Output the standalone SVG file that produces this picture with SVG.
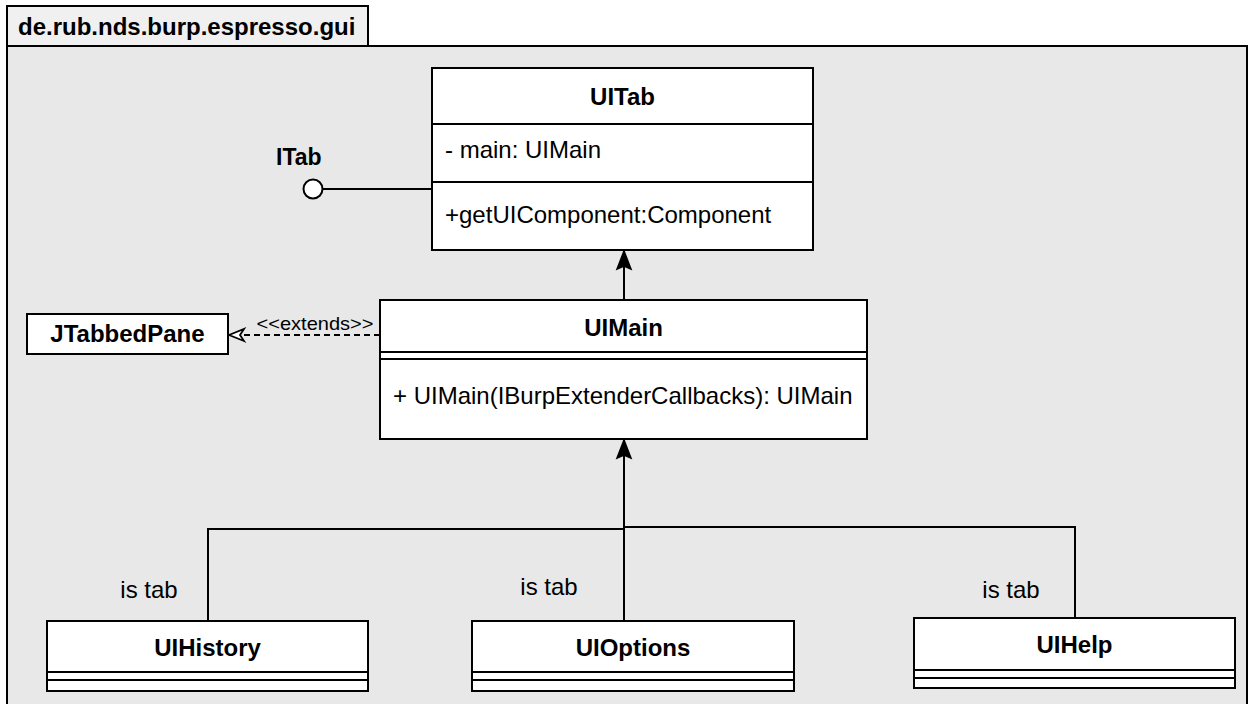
<svg xmlns="http://www.w3.org/2000/svg" width="1252" height="704" viewBox="0 0 1252 704">
  <style>
    text { font-family: "Liberation Sans", Arial, Helvetica, sans-serif; fill: #000; }
    .name { font-size: 24px; font-weight: bold; text-anchor: middle; }
    .member { font-size: 24px; }
    .label { font-size: 24px; text-anchor: middle; }
    .box { fill: #ffffff; stroke: #000; stroke-width: 2; }
    .sep { stroke: #000; stroke-width: 2; fill: none; }
    .edge { stroke: #000; stroke-width: 2; fill: none; }
    .dash { stroke: #000; stroke-width: 2; fill: none; stroke-dasharray: 6 4; }
  </style>
  <defs>
    <marker id="block" viewBox="0 0 20 20" refX="20" refY="10" markerWidth="20" markerHeight="20" markerUnits="userSpaceOnUse" orient="auto">
      <path d="M20,10 L2,3 L5,10 L2,17 Z" fill="#000" stroke="#000" stroke-width="1.5" stroke-linejoin="miter"/>
    </marker>
    <marker id="open" viewBox="0 0 20 20" refX="19" refY="10" markerWidth="20" markerHeight="20" markerUnits="userSpaceOnUse" orient="auto">
      <path d="M4,4 L19,10 L4,16 L8,10 Z" fill="#ffffff" stroke="#000" stroke-width="1.8"/>
    </marker>
  </defs>

  <!-- package frame -->
  <g id="package">
    <rect x="7" y="46" width="1240" height="670" fill="#e8e8e8" stroke="#000" stroke-width="2"/>
    <rect x="7" y="6" width="361" height="40" fill="#f0f0f0" stroke="#000" stroke-width="2"/>
    <text x="18" y="35" style="font-size:24px;font-weight:bold">de.rub.nds.burp.espresso.gui</text>
  </g>

  <!-- connectors -->
  <g id="connectors">
    <line class="edge" x1="323" y1="189" x2="432" y2="189"/>
    <line class="edge" x1="624" y1="300" x2="624" y2="251" marker-end="url(#block)"/>
    <line class="dash" x1="380" y1="335" x2="229" y2="335" marker-end="url(#open)"/>
    <path class="edge" d="M208,621 V529 H624 V440" marker-end="url(#block)"/>
    <line class="edge" x1="624" y1="621" x2="624" y2="529"/>
    <path class="edge" d="M1075,618 V527 H624"/>
    <text x="315" y="330" text-anchor="middle" style="font-size:19px" textLength="117" lengthAdjust="spacingAndGlyphs">&lt;&lt;extends&gt;&gt;</text>
    <text class="label" x="149" y="598">is tab</text>
    <text class="label" x="549" y="595">is tab</text>
    <text class="label" x="1011" y="598">is tab</text>
  </g>

  <!-- ITab interface (lollipop) -->
  <g id="ITab">
    <circle cx="313" cy="189" r="9.5" fill="#ffffff" stroke="#000" stroke-width="2"/>
    <text x="276" y="165" style="font-size:23px;font-weight:bold">ITab</text>
  </g>

  <!-- UITab class -->
  <g id="UITab">
    <rect class="box" x="432" y="68" width="381" height="182"/>
    <line class="sep" x1="432" y1="124" x2="813" y2="124"/>
    <line class="sep" x1="432" y1="182" x2="813" y2="182"/>
    <text class="name" x="622.5" y="105">UITab</text>
    <text class="member" x="445" y="158">- main: UIMain</text>
    <text class="member" x="445" y="223">+getUIComponent:Component</text>
  </g>

  <!-- UIMain class -->
  <g id="UIMain">
    <rect class="box" x="380" y="300" width="487" height="139"/>
    <line class="sep" x1="380" y1="352" x2="867" y2="352"/>
    <line class="sep" x1="380" y1="359" x2="867" y2="359"/>
    <text class="name" x="623.5" y="336">UIMain</text>
    <text class="member" x="393" y="404">+ UIMain(IBurpExtenderCallbacks): UIMain</text>
  </g>

  <!-- JTabbedPane -->
  <g id="JTabbedPane">
    <rect class="box" x="27" y="314" width="201" height="40"/>
    <text class="name" x="127.5" y="342">JTabbedPane</text>
  </g>

  <!-- tab classes -->
  <g id="UIHistory">
    <rect class="box" x="47" y="621" width="321" height="70"/>
    <line class="sep" x1="47" y1="672" x2="368" y2="672"/>
    <line class="sep" x1="47" y1="680" x2="368" y2="680"/>
    <text class="name" x="207.5" y="656">UIHistory</text>
  </g>

  <g id="UIOptions">
    <rect class="box" x="472" y="621" width="322" height="70"/>
    <line class="sep" x1="472" y1="672" x2="794" y2="672"/>
    <line class="sep" x1="472" y1="680" x2="794" y2="680"/>
    <text class="name" x="633" y="656">UIOptions</text>
  </g>

  <g id="UIHelp">
    <rect class="box" x="914" y="618" width="321" height="70"/>
    <line class="sep" x1="914" y1="670" x2="1235" y2="670"/>
    <line class="sep" x1="914" y1="678" x2="1235" y2="678"/>
    <text class="name" x="1074.5" y="653">UIHelp</text>
  </g>
</svg>
